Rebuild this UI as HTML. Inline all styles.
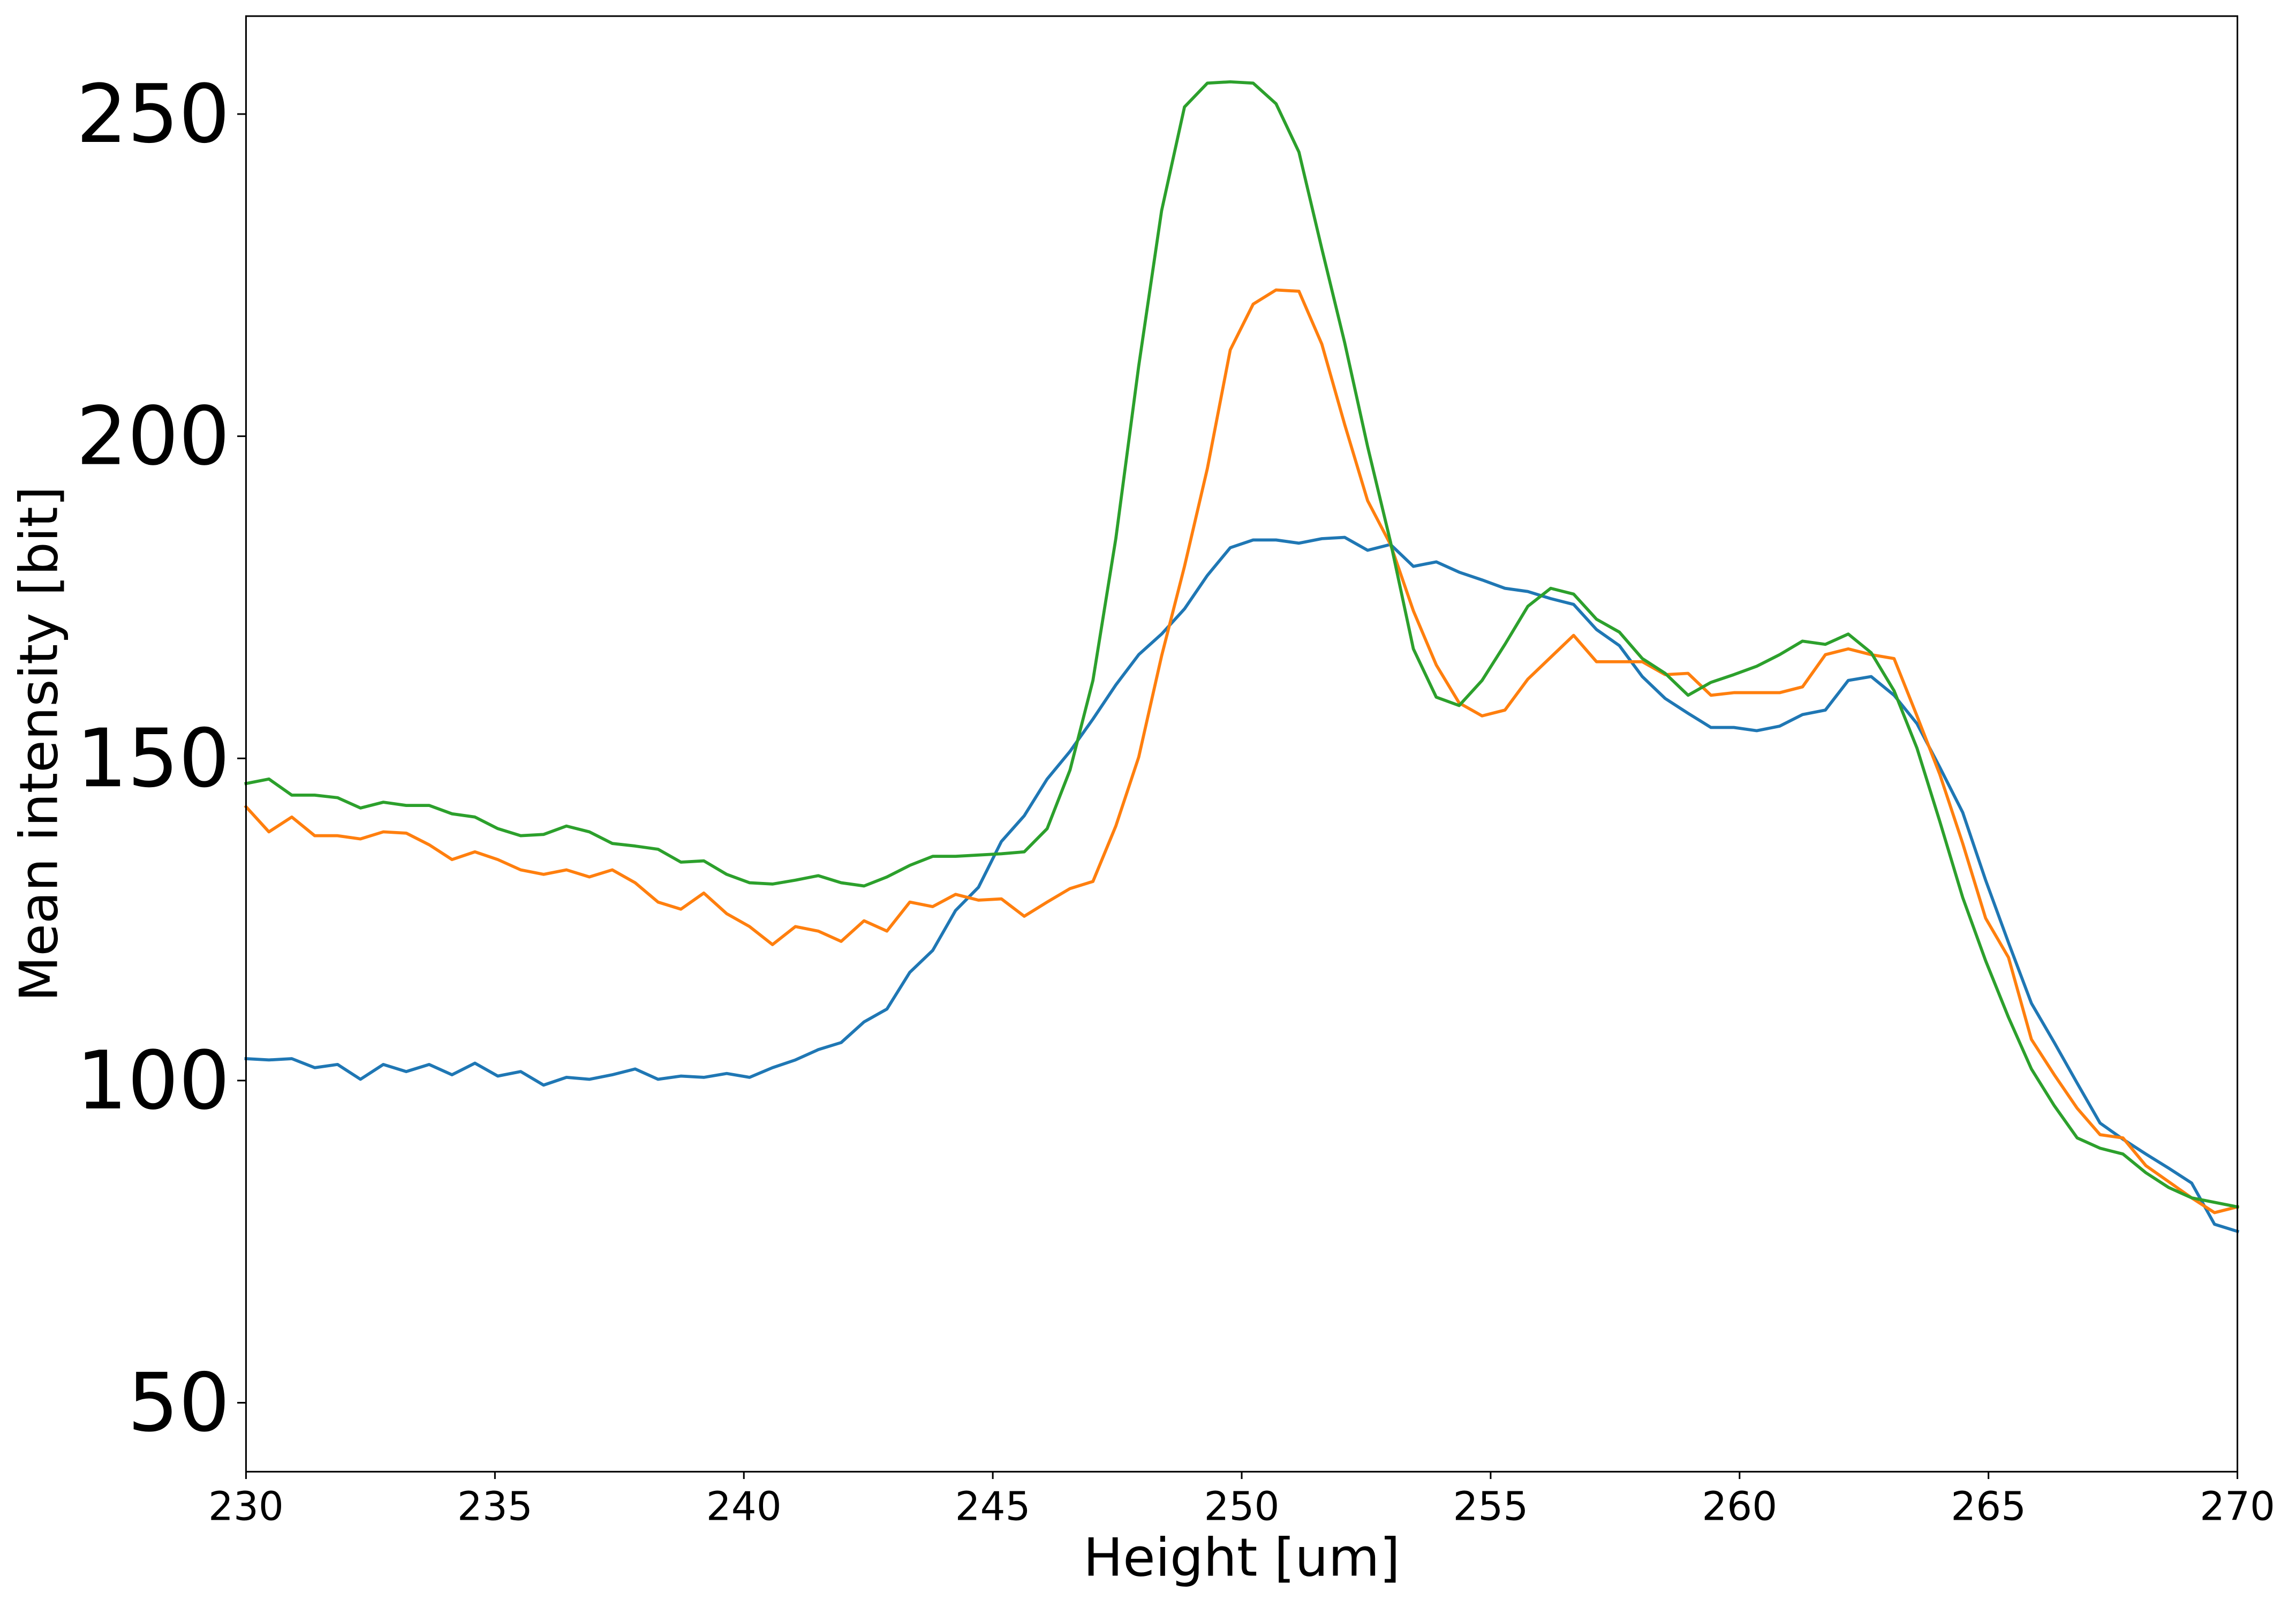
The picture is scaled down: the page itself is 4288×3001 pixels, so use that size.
<!DOCTYPE html>
<html><head><meta charset="utf-8"><style>
html,body{margin:0;padding:0;background:#fff;}
svg{display:block;}
text{font-family:"DejaVu Sans","Liberation Sans",sans-serif;fill:#000;}
</style></head><body>
<svg id="chart" width="4288" height="3001" viewBox="0 0 1568 1097.4" xmlns="http://www.w3.org/2000/svg">
<rect width="1568" height="1097.4" fill="#fff"/>
<g id="plot"></g>
</svg>
<script>
const xTicks=[230,235,240,245,250,255,260,265,270];
const yTicks=[50,100,150,200,250];
const seriesBlue=[103.4,103.2,103.4,102.0,102.5,100.2,102.5,101.4,102.5,100.9,102.7,100.7,101.4,99.3,100.5,100.2,100.9,101.8,100.2,100.7,100.5,101.1,100.5,102.0,103.2,104.8,105.9,109.1,111.1,116.8,120.2,126.4,130.0,137.1,141.1,146.8,151.1,156.1,161.4,166.1,169.3,173.2,178.4,182.7,183.9,183.9,183.4,184.1,184.3,182.3,183.2,179.8,180.5,178.9,177.7,176.4,175.9,174.8,173.9,170.0,167.5,162.7,159.3,157.0,154.8,154.8,154.3,155.0,156.8,157.5,162.1,162.7,159.8,155.4,148.6,141.6,131.1,121.4,112.0,105.9,99.6,93.4,90.9,88.6,86.4,84.1,77.7,76.6];
const seriesOrange=[142.5,138.6,140.9,138.0,138.0,137.5,138.6,138.4,136.6,134.3,135.5,134.3,132.7,132.0,132.7,131.6,132.7,130.7,127.7,126.6,129.1,125.9,123.9,121.1,123.9,123.2,121.6,124.8,123.2,127.7,127.0,128.9,128.0,128.2,125.5,127.7,129.8,130.9,139.5,150.2,165.9,179.8,195.0,213.4,220.5,222.7,222.5,214.3,201.8,190.0,183.2,172.9,164.5,158.6,156.6,157.5,162.3,165.7,169.1,165.0,165.0,165.0,163.0,163.2,159.8,160.2,160.2,160.2,161.1,166.1,167.0,166.1,165.5,156.6,147.5,136.8,125.2,119.1,106.4,100.9,95.7,91.6,91.1,86.8,84.3,81.8,79.5,80.4];
const seriesGreen=[146.1,146.8,144.3,144.3,143.9,142.3,143.2,142.7,142.7,141.4,140.9,139.1,138.0,138.2,139.5,138.6,136.8,136.4,135.9,133.9,134.1,132.0,130.7,130.5,131.1,131.8,130.7,130.2,131.6,133.4,134.8,134.8,135.0,135.2,135.5,139.1,148.2,162.1,184.1,210.9,235.0,251.1,254.8,255.0,254.8,251.6,244.1,229.1,214.5,198.4,183.6,167.0,159.5,158.2,162.1,167.7,173.6,176.4,175.5,171.6,169.6,165.5,163.2,159.8,161.8,163.0,164.3,166.1,168.2,167.7,169.3,166.4,160.5,151.6,140.2,128.4,118.6,109.8,101.8,96.1,91.1,89.5,88.6,85.7,83.4,81.8,81.1,80.4];
const xMin=230,xMax=270,yMin=39.3,yMax=265.2;
const L=168,R=1528,T=11,B=1005;
const sx=v=>L+(v-xMin)/(xMax-xMin)*(R-L);
const sy=v=>B-(v-yMin)/(yMax-yMin)*(B-T);
const NS="http://www.w3.org/2000/svg";
const g=document.getElementById('plot');
function mk(tag,attrs){const e=document.createElementNS(NS,tag);for(const k in attrs)e.setAttribute(k,attrs[k]);g.appendChild(e);return e;}
function drawSeries(vals,color,name){
  const n=vals.length;
  const pts=vals.map((v,i)=>sx(xMin+i*(xMax-xMin)/(n-1)).toFixed(2)+','+sy(v).toFixed(2)).join(' ');
  const p=mk('polyline',{points:pts,fill:'none',stroke:color,'stroke-width':2.1,'stroke-linejoin':'round','stroke-linecap':'square'});
  
  
}
drawSeries(seriesBlue,'#1f77b4','series-blue');
drawSeries(seriesOrange,'#ff7f0e','series-orange');
drawSeries(seriesGreen,'#2ca02c','series-green');
const frame=mk('rect',{x:L,y:T,width:R-L,height:B-T,fill:'none',stroke:'#000','stroke-width':1.1});


xTicks.forEach(t=>{
  const x=sx(t);
  const tk=mk('line',{x1:x,y1:B,x2:x,y2:B+5,stroke:'#000','stroke-width':1.1});
  
  
  const tx=mk('text',{x:x,y:1038,'text-anchor':'middle','font-size':27});
  tx.textContent=t;
  
  
});
yTicks.forEach(t=>{
  const y=sy(t);
  const tk=mk('line',{x1:L-6,y1:y,x2:L,y2:y,stroke:'#000','stroke-width':1.1});
  
  
  const tx=mk('text',{x:L-11,y:y+19,'text-anchor':'end','font-size':55});
  tx.textContent=t;
  
  
});
const xl=mk('text',{x:(L+R)/2,y:1076,'text-anchor':'middle','font-size':36});
xl.textContent='Height [um]';


const yl=mk('text',{x:0,y:0,'text-anchor':'middle','font-size':36,transform:'translate(39,508) rotate(-90)'});
yl.textContent='Mean intensity [bit]';


</script>
</body></html>
